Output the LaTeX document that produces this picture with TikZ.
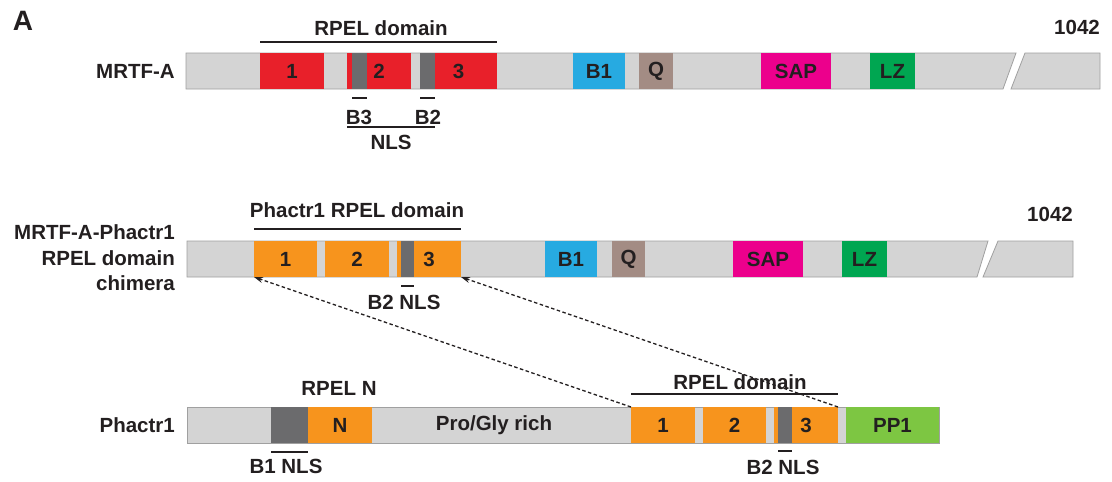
\documentclass[tikz,border=0pt]{standalone}
\usepackage{fontspec}
\setmainfont{Liberation Sans}
\usetikzlibrary{arrows.meta}
\definecolor{bargray}{HTML}{D4D4D4}
\definecolor{barline}{HTML}{A0A0A0}
\definecolor{mred}{HTML}{E8202A}
\definecolor{dgray}{HTML}{6B6B6D}
\definecolor{mblue}{HTML}{27AAE1}
\definecolor{qbrown}{HTML}{A38C84}
\definecolor{mmag}{HTML}{EC008C}
\definecolor{lzgreen}{HTML}{00A651}
\definecolor{morange}{HTML}{F7941D}
\definecolor{ppgreen}{HTML}{7DC642}
\definecolor{txt}{HTML}{231F20}
\newcommand\dom[7]{\node[dombox,fill=#6,minimum width={(#3-#2)*1pt},minimum height={(#5-#4)*1pt},anchor=north west] (#1) at (#2,#4) {#7};}
\begin{document}
\begin{tikzpicture}[x=1pt,y=-1pt,
  lbl/.style={font=\fontsize{20.5}{24}\selectfont\bfseries,text=txt,inner sep=0pt},
  dombox/.style={draw=none,inner sep=0pt,outer sep=0pt,font=\fontsize{20.5}{24}\selectfont\bfseries,text=txt},
  bar/.style={fill=bargray,draw=barline,line width=0.8pt},
  domline/.style={draw=txt,line width=1.8pt},
  tick/.style={draw=txt,line width=1.6pt},
  dasharrow/.style={draw=txt,line width=1.3pt,dash pattern=on 3.5pt off 2.5pt,-{Stealth[length=9pt,width=6pt]}}]
\useasboundingbox (0,0) rectangle (1112,482);
\fill[white] (0,0) rectangle (1112,482);
% ---------------- Row 1: MRTF-A
\node[lbl,font=\fontsize{28}{32}\selectfont\bfseries] (A) at (23,21) {A};
\draw[bar] (186,53) -- (1016,53) -- (1003,89) -- (186,89) -- cycle;
\draw[bar] (1025,53) -- (1100,53) -- (1100,89) -- (1011,89) -- cycle;
\dom{r1}{260}{324}{53}{89}{mred}{1}
\dom{r2}{347}{411}{53}{89}{mred}{2}
\dom{ka3}{352}{367}{53}{89}{dgray}{}
\dom{r3}{420}{497}{53}{89}{mred}{3}
\dom{ka2}{420}{435}{53}{89}{dgray}{}
\dom{b1a}{573}{625}{53}{89}{mblue}{B1}
\dom{qa}{639}{673}{53}{89}{qbrown}{Q}
\dom{sapa}{761}{831}{53}{89}{mmag}{SAP}
\dom{lza}{870}{915}{53}{89}{lzgreen}{LZ}
\node[lbl,anchor=east] (mrtf) at (175,71) {MRTF-A};
\node[lbl,anchor=east] (n1042a) at (1100,27) {1042};
\draw[domline] ([yshift=11pt]r1.north west) -- ([yshift=11pt]r3.north east);
\node[lbl] (rpela) at (381,28) {RPEL domain};
\draw[tick] ([yshift=-9pt]ka3.south west) -- ([yshift=-9pt]ka3.south east);
\draw[tick] ([yshift=-9pt]ka2.south west) -- ([yshift=-9pt]ka2.south east);
\node[lbl] (b3a) at (359,117) {B3};
\node[lbl] (b2a) at (428,117) {B2};
\draw[tick] ([yshift=-38pt]r2.south west) -- ([yshift=-38pt]ka2.south east);
\node[lbl] (nlsa) at (391,142) {NLS};
% ---------------- Row 2: chimera
\draw[bar] (187,241) -- (988,241) -- (977,277) -- (187,277) -- cycle;
\draw[bar] (998,241) -- (1073,241) -- (1073,277) -- (983,277) -- cycle;
\dom{o1}{254}{317}{241}{277}{morange}{1}
\dom{o2}{325}{389}{241}{277}{morange}{2}
\dom{o3}{397}{461}{241}{277}{morange}{3}
\dom{kb2}{401}{414}{241}{277}{dgray}{}
\dom{b1b}{545}{597}{241}{277}{mblue}{B1}
\dom{qb}{612}{645}{241}{277}{qbrown}{Q}
\dom{sapb}{733}{803}{241}{277}{mmag}{SAP}
\dom{lzb}{842}{887}{241}{277}{lzgreen}{LZ}
\node[lbl,anchor=east,align=right] (chim) at (175,258) {MRTF-A-Phactr1\\[1.5pt]RPEL domain\\[1.5pt]chimera};
\node[lbl,anchor=east] (n1042b) at (1073,214) {1042};
\draw[domline] ([yshift=12pt]o1.north west) -- ([yshift=12pt]o3.north east);
\node[lbl] (rpelb) at (357,210) {Phactr1 RPEL domain};
\draw[tick] ([yshift=-9pt]kb2.south west) -- ([yshift=-9pt]kb2.south east);
\node[lbl] (nlsb) at (404,302) {B2 NLS};
% ---------------- Row 3: Phactr1
\draw[bar] (187,407) -- (939,407) -- (939,443) -- (187,443) -- cycle;
\dom{kc1}{271}{308}{407}{443}{dgray}{}
\dom{nn}{308}{372}{407}{443}{morange}{N}
\dom{p1}{631}{695}{407}{443}{morange}{1}
\dom{p2}{703}{766}{407}{443}{morange}{2}
\dom{p3}{774}{838}{407}{443}{morange}{3}
\dom{kc2}{778}{792}{407}{443}{dgray}{}
\dom{pp1}{846}{939}{407}{443}{ppgreen}{PP1}
\node[lbl,anchor=east] (phac) at (175,425) {Phactr1};
\node[lbl] (rpeln) at (339,388) {RPEL N};
\node[lbl] (pro) at (494,425) {Pro/Gly rich};
\draw[tick] ([yshift=-9pt]kc1.south west) -- ([yshift=-9pt]kc1.south east);
\node[lbl] (nlsc) at (286,466) {B1 NLS};
\draw[domline] ([yshift=13pt]p1.north west) -- ([yshift=13pt]p3.north east);
\node[lbl] (rpelc) at (740,382) {RPEL domain};
\draw[tick] ([yshift=-8pt]kc2.south west) -- ([yshift=-8pt]kc2.south east);
\node[lbl] (nlsd) at (783,467) {B2 NLS};
% ---------------- dashed arrows
\draw[dasharrow] (p1.north west) -- (o1.south west);
\draw[dasharrow] (p3.north east) -- (o3.south east);
\end{tikzpicture}
\end{document}
